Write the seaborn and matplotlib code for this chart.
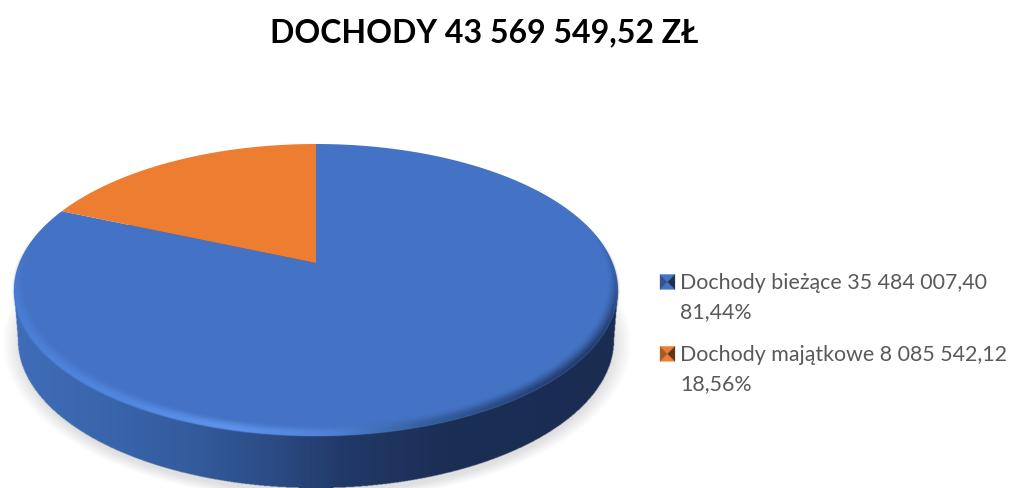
import numpy as np
import matplotlib
matplotlib.use("Agg")
import matplotlib.pyplot as plt
from matplotlib.colors import to_rgb
from matplotlib.legend_handler import HandlerPatch
from matplotlib.patches import Polygon
from matplotlib.path import Path
from matplotlib.transforms import Affine2D, Transform
import seaborn as sns

title = "DOCHODY 43 569 549,52 ZŁ"
categories = ["Dochody bieżące 35 484 007,40", "Dochody majątkowe 8 085 542,12"]
amounts = [35484007.40, 8085542.12]
shares = ["81,44%", "18,56%"]
colors = ["#4472C4", "#ED7D31"]

W, H = 1013, 488
sns.set_theme(style="white")
plt.rcParams["font.family"] = ["Lato", "DejaVu Sans"]

CX, CY, A, B = 316.0, 290.0, 302.0, 146.0   # top face ellipse, pixels
APEX = 0.185                               # how far perspective shifts the pie centre


class Perspective(Transform):
    """Projects the flat unit-disc pie onto the tilted top face."""
    input_dims = output_dims = 2

    def transform_non_affine(self, values):
        x, y = np.asarray(values).T
        d = 1 + APEX * y
        return np.column_stack([CX + A * x * np.sqrt(1 - APEX ** 2) / d,
                                CY - B * (y + APEX) / d])

    def transform_path_non_affine(self, path):
        big = path.transformed(Affine2D().scale(2000))
        poly = big.to_polygons(closed_only=False)[0] / 2000
        return Path(self.transform_non_affine(poly))


fig = plt.figure(figsize=(W / 100, H / 100), dpi=100, facecolor="white")
ax = fig.add_axes([0, 0, 1, 1])

wedges, _ = ax.pie(amounts, colors=colors, startangle=90, counterclock=False,
                   wedgeprops={"linewidth": 0, "zorder": 3})
persp = Perspective() + ax.transData
for w in wedges:
    w.set_transform(persp)
ax.set_aspect("auto")
ax.set_xlim(0, W)
ax.set_ylim(H, 0)
ax.set_axis_off()

# ---- procedural shading of the 3-D disc (side wall, shadow, bevel)
ss = 2
xx, yy = np.meshgrid((np.arange(W * ss) + .5) / ss, (np.arange(H * ss) + .5) / ss)


def lerp_colors(x, stops):
    xs = [s[0] for s in stops]
    rgb = np.array([to_rgb(s[1]) for s in stops])
    return np.stack([np.interp(x, xs, rgb[:, i]) for i in range(3)], -1)


def ell(cx, cy, a, b):
    return np.hypot((xx - cx) / a, (yy - cy) / b)


BOT = (316.0, 340.0, 298.0, 148.0)
r_top = ell(CX, CY, A, B)
r_bot = ell(*BOT)

# soft shadow under the disc
r_sh = ell(BOT[0] + 1, BOT[1] + 3, BOT[2] + 6, BOT[3] + 5)
sh_a = np.clip((1.035 - r_sh) / 0.06, 0, 1) * 0.22
shadow = np.dstack([np.full_like(xx, .45)] * 3 + [sh_a])
ax.imshow(shadow, extent=(0, W, H, 0), zorder=1, aspect="auto", interpolation="bilinear")

# side wall: everything between the bottom ellipse and the top face
half = np.interp(yy, [CY, BOT[1]], [A, BOT[2]])
in_wall = (r_bot <= 1) | ((np.abs(xx - CX) <= half) & (yy > CY) & (yy < BOT[1]))
wall_rgb = lerp_colors(xx, [(14, "#3F6DB8"), (100, "#3A66AD"), (200, "#335A9B"),
                            (280, "#2A4A82"), (340, "#223A69"), (450, "#1B2E54"), (620, "#1A2C50")])
wall = np.dstack([wall_rgb, in_wall.astype(float)])
ax.imshow(wall, extent=(0, W, H, 0), zorder=2, aspect="auto", interpolation="bilinear")

# bevel on the front rim of the top face
r_in = ell(CX + 1, CY - 9, A - 12, B - 3)
s = np.clip((r_in - 1) / 0.07, 0, 1)
s = s * s * (3 - 2 * s)
edge = np.clip((1.006 - r_top) / 0.012, 0, 1)
rim_rgb = lerp_colors(xx, [(14, "#4C82DA"), (120, "#5288E0"), (230, "#6095EE"), (330, "#5083D6"),
                           (420, "#35609F"), (520, "#27457C"), (620, "#1B2E54")])
rim = np.dstack([rim_rgb, s * edge])
ax.imshow(rim, extent=(0, W, H, 0), zorder=4, aspect="auto", interpolation="bilinear")
ax.set_xlim(0, W)
ax.set_ylim(H, 0)

# ---- title
ax.text(484, 33, title, ha="center", va="center", fontsize=23, fontweight="bold", color="black", zorder=5)


# ---- legend with bevelled square keys
class BevelHandler(HandlerPatch):
    lift = 11.5  # points: keeps the key level with the first line of the label

    def create_artists(self, legend, orig, xd, yd, w, h, fontsize, trans):
        base = np.array(to_rgb(orig.get_facecolor()))
        x0, y0 = -xd, -yd + self.lift
        x1, y1 = x0 + w, y0 + h
        c = (x0 + w / 2, y0 + h / 2)
        faces = [([(x0, y1), (x1, y1), c], base * 1.0),
                 ([(x0, y0), (x1, y0), c], base * 1.0),
                 ([(x0, y0), (x0, y1), c], base * 0.72),
                 ([(x1, y0), (x1, y1), c], base * 0.42)]
        return [Polygon(p, closed=True, facecolor=col, edgecolor=col, linewidth=0.2, transform=trans)
                for p, col in faces]


labels = [f"{c}\n{s_}" for c, s_ in zip(categories, shares)]
leg = ax.legend(wedges, labels, handler_map={wedges[0].__class__: BevelHandler()},
                loc="upper left", bbox_to_anchor=(660 / W, 1 - 273 / H), bbox_transform=fig.transFigure,
                frameon=False, fontsize=15.4, labelcolor="#595959", borderpad=0, borderaxespad=0,
                handlelength=0.7, handleheight=0.7, handletextpad=0.23, labelspacing=1.08)
for t in leg.get_texts():
    t.set_linespacing(1.55)
leg.set_zorder(6)

fig.savefig("out.png", dpi=100, facecolor="white")
